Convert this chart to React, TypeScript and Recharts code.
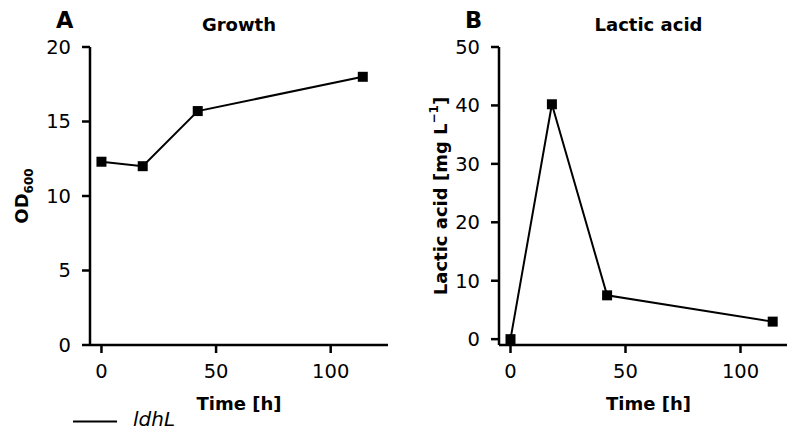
import { LineChart, Line, XAxis, YAxis } from "recharts";

// sampling times (h)
const times = [0, 18, 42, 114];
// panel A: OD600
const growthOD = [12.3, 12.0, 15.7, 18.0];
// panel B: lactic acid (mg/L)
const lacticAcid = [0, 40.2, 7.5, 3.0];

const xTicks = [0, 50, 100];
const growthTicks = [0, 5, 10, 15, 20];
const lacticTicks = [0, 10, 20, 30, 40, 50];

const FONT = "'DejaVu Sans', sans-serif";

const growthData = times.map((t, i) => ({ time: t, value: growthOD[i] }));
const lacticData = times.map((t, i) => ({ time: t, value: lacticAcid[i] }));

const tickStyle = { fontSize: 19.5, fill: "#000", fontFamily: FONT };
const spine = { stroke: "#000", strokeWidth: 2.5 };

const SquareDot = (props: any) => {
    const { cx, cy, index } = props;
    if (cx == null || cy == null) return null;
    return (
        <rect
            key={`sq-${index}`}
            x={cx - 5}
            y={cy - 5}
            width={10}
            height={10}
            fill="#000"
        />
    );
};

type PanelProps = {
    data: { time: number; value: number }[];
    yDomain: [number, number];
    yTicks: number[];
    width: number;
    marginLeft: number;
};

function Panel({ data, yDomain, yTicks, width, marginLeft }: PanelProps) {
    return (
        <LineChart
            width={width}
            height={430}
            data={data}
            margin={{ top: 47, right: 12, bottom: 45, left: marginLeft }}
        >
            <XAxis
                xAxisId="b"
                dataKey="time"
                type="number"
                domain={[-5, 125]}
                ticks={xTicks}
                height={40}
                tickSize={8}
                tickMargin={11}
                axisLine={spine}
                tickLine={spine}
                tick={tickStyle}
            />
            <XAxis
                xAxisId="t"
                orientation="top"
                dataKey="time"
                type="number"
                domain={[-5, 125]}
                height={0}
                tick={false}
                tickLine={false}
                axisLine={spine}
            />
            <YAxis
                yAxisId="l"
                type="number"
                domain={yDomain}
                ticks={yTicks}
                width={50}
                tickSize={8}
                tickMargin={11}
                axisLine={spine}
                tickLine={spine}
                tick={tickStyle}
            />
            <YAxis
                yAxisId="r"
                orientation="right"
                type="number"
                domain={yDomain}
                width={0}
                tick={false}
                tickLine={false}
                axisLine={spine}
            />
            <Line
                xAxisId="b"
                yAxisId="l"
                dataKey="value"
                stroke="#000"
                strokeWidth={2}
                dot={SquareDot}
                activeDot={false}
                isAnimationActive={false}
            />
        </LineChart>
    );
}

export default function App() {
    return (
        <div
            style={{
                position: "absolute",
                left: 0,
                top: 0,
                width: 787,
                height: 430,
                overflow: "hidden",
                background: "#fff",
                fontFamily: FONT,
            }}
        >
            <div style={{ position: "absolute", left: 0, top: 0 }}>
                <Panel
                    data={growthData}
                    yDomain={[0, 20]}
                    yTicks={growthTicks}
                    width={400}
                    marginLeft={40}
                />
            </div>
            <div style={{ position: "absolute", left: 400, top: 0 }}>
                <Panel
                    data={lacticData}
                    yDomain={[-1, 50]}
                    yTicks={lacticTicks}
                    width={410}
                    marginLeft={49}
                />
            </div>

            {/* titles, axis labels, legend */}
            <svg
                width={787}
                height={430}
                style={{ position: "absolute", left: 0, top: 0, pointerEvents: "none" }}
                fontFamily={FONT}
            >
                <text x={56} y={28} fontSize={22.5} fontWeight="bold">A</text>
                <text x={465} y={28} fontSize={22.5} fontWeight="bold">B</text>

                <text x={239} y={31} fontSize={18} fontWeight="bold" textAnchor="middle">
                    Growth
                </text>
                <text x={648.5} y={31} fontSize={18} fontWeight="bold" textAnchor="middle">
                    Lactic acid
                </text>

                <text x={239} y={410} fontSize={18} fontWeight="bold" textAnchor="middle">
                    Time [h]
                </text>
                <text x={648.5} y={410} fontSize={18} fontWeight="bold" textAnchor="middle">
                    Time [h]
                </text>

                <text
                    x={28}
                    y={196}
                    transform="rotate(-90 28 196)"
                    fontSize={18}
                    fontWeight="bold"
                    textAnchor="middle"
                >
                    OD<tspan fontSize={12} dy={5}>600</tspan>
                </text>

                <text
                    x={447}
                    y={196}
                    transform="rotate(-90 447 196)"
                    fontSize={18}
                    fontWeight="bold"
                    textAnchor="middle"
                >
                    Lactic acid [mg L
                    <tspan fontSize={12} dy={-9}>−1</tspan>
                    <tspan dy={9}>]</tspan>
                </text>

                <line x1={73} x2={117} y1={421.5} y2={421.5} stroke="#000" strokeWidth={2} />
                <text x={133} y={426} fontSize={20} fontStyle="italic">ldhL</text>
            </svg>
        </div>
    );
}
